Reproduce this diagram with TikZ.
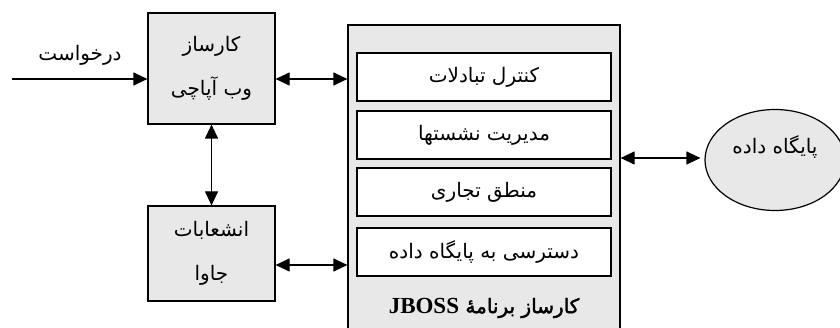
\documentclass[tikz,border=0pt]{standalone}
\usepackage{fontspec}
\setmainfont{Liberation Serif}
\newfontfamily\arabicfont[Script=Arabic]{DejaVu Sans}
\newfontfamily\arabicbold[Script=Arabic,FakeBold=2]{DejaVu Sans}
\TeXXeTstate=1
\usetikzlibrary{arrows.meta,shapes.geometric}
\newcommand{\fa}[1]{{\arabicfont\beginR #1\endR}}
\definecolor{boxgray}{RGB}{232,232,232}
\tikzset{
  tip/.tip={Triangle[length=14pt,width=13pt]},
  graybox/.style={draw=black, line width=1.2pt, fill=boxgray, inner sep=0pt, align=center,
    font=\fontsize{20}{44}\selectfont},
  whitebox/.style={draw=black, line width=1.2pt, fill=white, inner sep=0pt,
    minimum width=254pt, minimum height=48pt, font=\fontsize{20}{22}\selectfont},
  dbl/.style={line width=1.2pt, tip-tip},
  sgl/.style={line width=1.2pt, -tip},
  lbl/.style={inner sep=0pt, font=\fontsize{20}{22}\selectfont}
}
\begin{document}
\begin{tikzpicture}[x=1pt,y=-1pt]
\useasboundingbox (0,0) rectangle (840,328);
\clip (0,0) rectangle (840,328);
% main boxes
\node[graybox, minimum width=127pt, minimum height=111pt] (apache) at (211.5,68.5) {\fa{کارساز}\\\fa{وب آپاچی}};
\node[graybox, minimum width=127pt, minimum height=95pt] (java) at (211.5,253.5) {\fa{انشعابات}\\\fa{جاوا}};
\node[draw=black, line width=1.2pt, fill=boxgray, minimum width=272pt, minimum height=335pt, inner sep=0pt] (jboss) at (484,192.5) {};
\node[whitebox] (tx) at (484,77) {\fa{کنترل تبادلات}};
\node[whitebox] (sess) at (484,135) {\fa{مدیریت نشستها}};
\node[whitebox] (biz) at (484,192) {\fa{منطق تجاری}};
\node[whitebox] (dba) at (484,252) {\fa{دسترسی به پایگاه داده}};
\node[lbl] (jlabel) at (484,308) {{\arabicbold\beginR کارساز برنامهٔ \beginL{\rmfamily\bfseries\fontsize{23}{26}\selectfont JBOSS}\endL\endR}};
\node[draw=black, line width=1.2pt, fill=boxgray, ellipse, minimum width=140pt, minimum height=101pt, inner sep=0pt, font=\fontsize{20}{22}\selectfont, text depth=30pt] (db) at (775,160) {\fa{پایگاه داده}};
\node[lbl] (reqlbl) at (80,55) {\fa{درخواست}};
% coordinates
\coordinate (req) at (12,79);
\coordinate (jy) at (0,265);
\coordinate (dy) at (0,158);
% connectors
\draw[sgl] (req) -- (req -| apache.west);
\draw[dbl] (req -| apache.east) -- (req -| jboss.west);
\draw[dbl] (jy -| java.east) -- (jy -| jboss.west);
\draw[dbl] (apache.south) -- (java.north);
\draw[dbl, shorten >=4pt] (dy -| jboss.east) -- (dy -| db.west);
\end{tikzpicture}
\end{document}
